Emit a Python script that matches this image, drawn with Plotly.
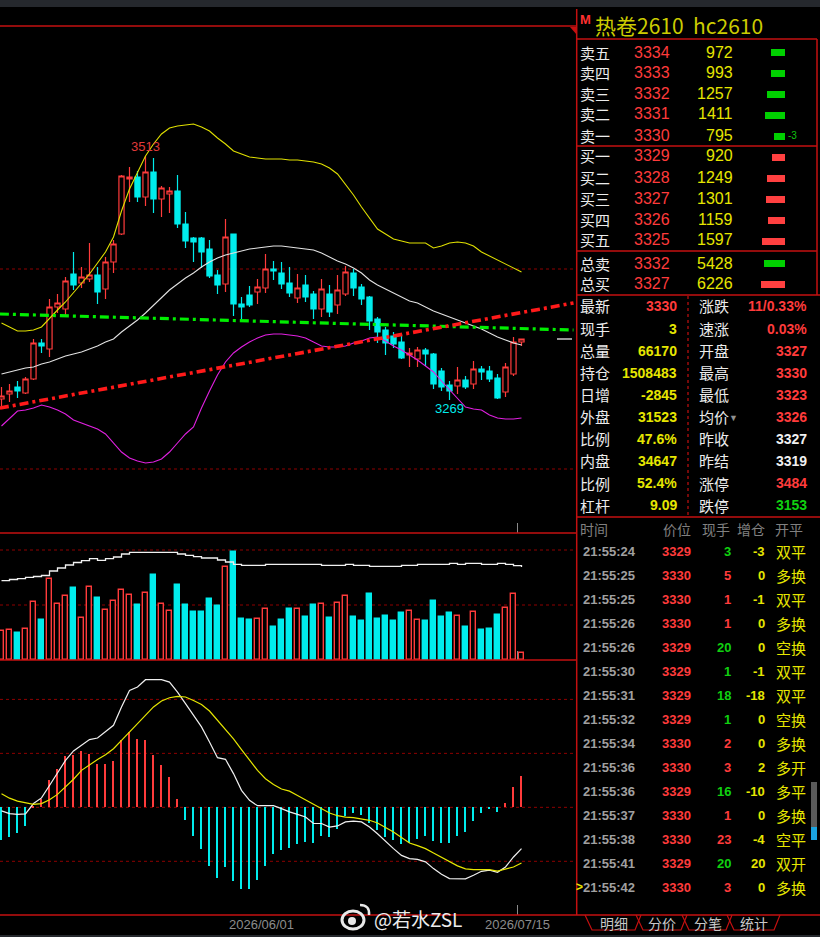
import plotly.graph_objects as go

W, H = 820, 937
CJK = "Noto Sans CJK SC"
NUM = "Liberation Sans"

RED = "#ff3b3b"
CYAN = "#00ecec"
YEL = "#e6e600"
BORDER = "#c41010"
GRID = "#8e0000"

# ---- daily candles hc2610 (index 0..65, last one = 2026/07/15 night session)
opens = [3270, 3275, 3282, 3276, 3290, 3326, 3320, 3362, 3360, 3395,
         3386, 3390, 3394, 3380, 3407, 3435, 3490, 3492, 3472, 3497,
         3470, 3475, 3478, 3445, 3431, 3431, 3420, 3394, 3385, 3435,
         3365, 3374, 3377, 3381, 3400, 3396, 3386, 3371, 3384, 3375,
         3360, 3375, 3364, 3375, 3396, 3382, 3372, 3350, 3339, 3333,
         3327, 3314, 3310, 3319, 3315, 3298, 3284, 3283, 3289, 3285,
         3300, 3298, 3291, 3277, 3295, 3327]
highs = [3282, 3285, 3288, 3292, 3330, 3330, 3370, 3375, 3392, 3417,
         3402, 3426, 3402, 3412, 3429, 3494, 3502, 3498, 3513, 3511,
         3483, 3482, 3494, 3457, 3432, 3432, 3429, 3399, 3450, 3435,
         3372, 3383, 3390, 3415, 3408, 3407, 3402, 3395, 3394, 3378,
         3390, 3384, 3394, 3403, 3400, 3385, 3373, 3352, 3342, 3337,
         3335, 3321, 3322, 3321, 3316, 3301, 3288, 3302, 3293, 3308,
         3303, 3303, 3295, 3306, 3332, 3330]
lows = [3261, 3267, 3271, 3275, 3289, 3316, 3312, 3356, 3354, 3379,
        3381, 3387, 3365, 3370, 3396, 3434, 3467, 3467, 3463, 3456,
        3452, 3456, 3441, 3421, 3407, 3401, 3391, 3375, 3377, 3353,
        3350, 3362, 3365, 3376, 3389, 3380, 3372, 3366, 3367, 3350,
        3352, 3352, 3355, 3373, 3373, 3364, 3339, 3326, 3314, 3321,
        3310, 3302, 3302, 3303, 3280, 3278, 3269, 3275, 3280, 3280,
        3289, 3287, 3270, 3272, 3293, 3323]
closes = [3273, 3278, 3278, 3290, 3326, 3323, 3362, 3366, 3388, 3384,
          3392, 3394, 3377, 3407, 3425, 3493, 3492, 3472, 3497, 3470,
          3481, 3478, 3445, 3428, 3427, 3417, 3393, 3384, 3432, 3365,
          3362, 3364, 3382, 3400, 3398, 3385, 3376, 3381, 3372, 3360,
          3380, 3357, 3379, 3397, 3381, 3370, 3348, 3337, 3326, 3325,
          3311, 3316, 3319, 3315, 3285, 3282, 3278, 3289, 3282, 3300,
          3297, 3290, 3271, 3302, 3327, 3330]

boll_up = [3346, 3342, 3338, 3338, 3339, 3342, 3351, 3359, 3367, 3376,
           3385, 3395, 3406, 3417, 3432, 3458, 3480, 3497, 3513, 3525,
           3535, 3541, 3543, 3544, 3545, 3542, 3538, 3531, 3525, 3518,
           3515, 3512, 3511, 3510, 3510, 3510, 3509, 3509, 3508, 3507,
           3505, 3501, 3495, 3485, 3474, 3462, 3451, 3440, 3435, 3430,
           3428, 3426, 3426, 3426, 3421, 3423, 3426, 3427, 3426, 3423,
           3417, 3413, 3409, 3405, 3401, 3397]
boll_mid = [3295, 3297, 3299, 3301, 3302, 3305, 3307, 3310, 3313, 3315,
            3317, 3320, 3323, 3327, 3330, 3337, 3343, 3349, 3356, 3364,
            3372, 3379, 3385, 3391, 3396, 3402, 3407, 3411, 3414, 3416,
            3418, 3420, 3421, 3422, 3423, 3423, 3422, 3421, 3420, 3419,
            3416, 3412, 3408, 3405, 3401, 3396, 3389, 3384, 3380, 3376,
            3372, 3368, 3366, 3362, 3358, 3355, 3352, 3349, 3346, 3343,
            3340, 3336, 3332, 3329, 3326, 3324]
boll_low = [3243, 3251, 3258, 3259, 3261, 3264, 3262, 3259, 3255, 3249,
            3246, 3243, 3240, 3235, 3226, 3217, 3211, 3208, 3206, 3207,
            3210, 3217, 3226, 3235, 3242, 3261, 3278, 3294, 3307, 3316,
            3322, 3327, 3331, 3334, 3335, 3335, 3334, 3333, 3331, 3327,
            3323, 3322, 3322, 3323, 3326, 3328, 3331, 3332, 3328, 3323,
            3319, 3314, 3309, 3303, 3297, 3288, 3279, 3271, 3262, 3260,
            3259, 3254, 3251, 3250, 3250, 3251]

# hand-drawn trend lines (candle index, price)
green_line_idx = [-0.2, 71.5]
green_line_px = [3355, 3339]
red_line_idx = [-0.2, 71.5]
red_line_px = [3261, 3366]

volume = [263600, 272700, 245500, 281800, 527300, 363600, 736400, 509100, 581800, 654600,
          381800, 663600, 563600, 454600, 536400, 636400, 590900, 500000, 609100, 772700,
          509100, 445500, 681800, 500000, 436400, 436400, 554500, 490900, 845500, 981800,
          372700, 363600, 372700, 463600, 300000, 363600, 463600, 463600, 390900, 500000,
          509100, 381800, 518200, 581800, 390900, 354500, 600000, 372700, 400000, 354500,
          427300, 445500, 363600, 354500, 536400, 390900, 427300, 400000, 300000, 436400,
          272700, 281800, 409100, 472700, 600000, 66170]
open_interest = [1481200, 1483600, 1485200, 1488000, 1489600, 1491600, 1500600, 1506600, 1512600, 1517600,
                 1521200, 1525200, 1522000, 1525200, 1528600, 1534600, 1538000, 1538000, 1538000, 1538000,
                 1538000, 1538000, 1534600, 1532000, 1529200, 1526600, 1526600, 1522600, 1518600, 1514000,
                 1512000, 1512000, 1512000, 1514000, 1514000, 1514000, 1514000, 1514000, 1514000, 1514000,
                 1512000, 1512000, 1512000, 1514000, 1512000, 1512000, 1510000, 1510000, 1510000, 1510000,
                 1512000, 1512000, 1514000, 1514000, 1514000, 1514000, 1516000, 1514000, 1516000, 1516000,
                 1514000, 1514000, 1516000, 1514000, 1511328, 1508483]

dif = [-1.3, -2.3, -2.6, -2.4, 1.4, 3.5, 8.1, 12.5, 17.4, 20.9,
       23.0, 25.1, 25.7, 27.9, 30.4, 37.2, 43.3, 44.6, 47.3, 47.3,
       47.3, 46.4, 42.7, 38.4, 34.1, 29.8, 24.2, 18.4, 17.8, 12.5,
       6.3, 2.6, 0.6, 0.6, 0.6, -0.5, -1.7, -2.6, -3.6, -6.0,
       -6.0, -7.3, -6.9, -5.4, -5.1, -5.4, -7.3, -9.8, -12.6, -15.3,
       -17.8, -19.0, -19.3, -20.2, -22.7, -24.8, -26.4, -26.4, -26.5, -25.2,
       -23.7, -23.3, -24.1, -22.1, -18.4, -15.3]
dea = [5.0, 3.4, 2.3, 1.6, 1.1, 1.4, 2.8, 4.8, 7.5, 10.4,
       13.7, 15.8, 17.7, 19.5, 21.7, 24.8, 27.9, 31.0, 34.3, 37.2,
       39.4, 40.6, 41.1, 40.9, 39.6, 38.1, 35.7, 32.2, 29.1, 25.4,
       21.4, 17.4, 13.7, 10.6, 8.5, 6.8, 6.0, 4.4, 2.8, 1.4,
       -0.5, -2.1, -3.1, -3.6, -3.8, -4.2, -4.8, -5.8, -7.3, -9.1,
       -11.2, -13.2, -14.2, -15.3, -16.9, -18.6, -20.2, -21.7, -22.8, -23.1,
       -23.1, -23.1, -23.6, -22.8, -22.1, -20.6]
macd = [-12.2, -11.0, -9.5, -6.9, 0.6, 3.0, 10.0, 14.1, 18.9, 19.5,
        20.7, 19.9, 15.9, 15.9, 17.0, 25.1, 27.9, 25.4, 25.1, 19.5,
        15.6, 11.1, 3.0, -4.8, -10.6, -15.6, -21.7, -26.2, -22.1, -27.3,
        -30.2, -30.2, -27.0, -21.7, -17.4, -15.9, -15.1, -13.6, -12.8, -13.2,
        -10.6, -11.0, -8.0, -3.3, -2.1, -3.0, -5.7, -8.4, -11.0, -12.2,
        -13.6, -13.2, -11.7, -10.6, -12.5, -13.2, -13.2, -10.6, -9.1, -5.1,
        -2.1, -0.6, -1.7, 1.5, 7.4, 11.5]

date_ticks = [32.5, 64.5]
date_labels = ["2026/06/01", "2026/07/15"]

# ---- quote panel
title_cn = "热卷2610"
title_code = "hc2610"
book_labels = ["卖五", "卖四", "卖三", "卖二", "卖一", "买一", "买二", "买三", "买四", "买五"]
book_prices = [3334, 3333, 3332, 3331, 3330, 3329, 3328, 3327, 3326, 3325]
book_qty = [972, 993, 1257, 1411, 795, 920, 1249, 1301, 1159, 1597]
total_labels = ["总卖", "总买"]
total_prices = [3332, 3327]
total_qty = [5428, 6226]

stat_left = ["最新", "现手", "总量", "持仓", "日增", "外盘", "比例", "内盘", "比例", "杠杆"]
stat_left_val = ["3330", "3", "66170", "1508483", "-2845", "31523", "47.6%", "34647", "52.4%", "9.09"]
stat_left_col = [RED] + [YEL] * 9
stat_right = ["涨跌", "速涨", "开盘", "最高", "最低", "均价", "昨收", "昨结", "涨停", "跌停"]
stat_right_val = ["11/0.33%", "0.03%", "3327", "3330", "3323", "3326", "3327", "3319", "3484", "3153"]
stat_right_col = [RED, RED, RED, RED, RED, RED, "#f0f0f0", "#f0f0f0", RED, "#10d010"]

tick_time = ["21:55:24", "21:55:25", "21:55:25", "21:55:26", "21:55:26", "21:55:30", "21:55:31",
             "21:55:32", "21:55:34", "21:55:36", "21:55:36", "21:55:37", "21:55:38", "21:55:41",
             "21:55:42"]
tick_price = [3329, 3330, 3330, 3330, 3329, 3329, 3329, 3329, 3330, 3330, 3329, 3330, 3330, 3329, 3330]
tick_qty = [3, 5, 1, 1, 20, 1, 18, 1, 2, 3, 16, 1, 23, 20, 3]
tick_oi = [-3, 0, -1, 0, 0, -1, -18, 0, 0, 2, -10, 0, -4, 20, 0]
tick_kind = ["双平", "多换", "双平", "多换", "空换", "双平", "双平", "空换", "多换", "多开",
             "多平", "多换", "空平", "双开", "多换"]


def P(x):
    return x / W


def Q(y):
    return 1 - y / H


idx = list(range(len(closes)))
up = [c >= o for o, c in zip(opens, closes)]

fig = go.Figure()

fig.add_trace(go.Candlestick(
    x=idx, open=opens, high=highs, low=lows, close=closes,
    increasing=dict(line=dict(color=RED, width=1.2), fillcolor="#000000"),
    decreasing=dict(line=dict(color=CYAN, width=1.2), fillcolor=CYAN),
    xaxis="x", yaxis="y", hoverinfo="skip"))
for vals, col in [(boll_up, "#e0e000"), (boll_mid, "#e2e2e2"), (boll_low, "#e020e0")]:
    fig.add_trace(go.Scatter(x=idx, y=vals, mode="lines", line=dict(color=col, width=1.1),
                             xaxis="x", yaxis="y"))
fig.add_trace(go.Scatter(x=green_line_idx, y=green_line_px, mode="lines",
                         line=dict(color="#00ee00", width=3.2, dash="9px,4px,3px,4px"),
                         xaxis="x", yaxis="y"))
fig.add_trace(go.Scatter(x=red_line_idx, y=red_line_px, mode="lines",
                         line=dict(color="#ff1a1a", width=3.6, dash="9px,4px,3px,4px"),
                         xaxis="x", yaxis="y"))

# volume + open interest
fig.add_trace(go.Bar(
    x=idx, y=volume, width=0.72,
    marker=dict(color=["#000000" if u else CYAN for u in up],
                line=dict(color=[RED if u else CYAN for u in up], width=1.4)),
    xaxis="x2", yaxis="y2"))
fig.add_trace(go.Scatter(x=idx, y=open_interest, mode="lines", line=dict(color="#f0f0f0", width=1.3, shape="hv"),
                         xaxis="x2", yaxis="y5"))

# MACD
fig.add_trace(go.Bar(x=idx, y=macd, width=0.16,
                     marker=dict(color=[RED if v > 0 else CYAN for v in macd], line=dict(width=0)),
                     xaxis="x3", yaxis="y3"))
fig.add_trace(go.Scatter(x=idx, y=dif, mode="lines", line=dict(color="#f0f0f0", width=1.2),
                         xaxis="x3", yaxis="y3"))
fig.add_trace(go.Scatter(x=idx, y=dea, mode="lines", line=dict(color="#e6e600", width=1.2),
                         xaxis="x3", yaxis="y3"))

# order book bars
fig.add_trace(go.Bar(x=book_qty, y=list(range(10)), orientation="h", width=0.34,
                     marker=dict(color=["#00d000"] * 5 + ["#ff4040"] * 5, line=dict(width=0)),
                     xaxis="x4", yaxis="y4"))
fig.add_trace(go.Bar(x=total_qty, y=[0, 1], orientation="h", width=0.34,
                     marker=dict(color=["#00d000", "#ff4040"], line=dict(width=0)),
                     xaxis="x6", yaxis="y6"))

xr = [-0.1875, 71.6875]
chart_dom = [0, P(575)]
hidden = dict(showgrid=False, zeroline=False, showticklabels=False, showline=False, ticks="")

layout = dict(
    width=W, height=H, margin=dict(l=0, r=0, t=0, b=0),
    paper_bgcolor="#000000", plot_bgcolor="#000000",
    showlegend=False, hovermode=False, bargap=0, boxgap=0.08,
    xaxis=dict(domain=chart_dom, range=xr, anchor="y", rangeslider=dict(visible=False), **hidden),
    yaxis=dict(domain=[Q(533), Q(26)], range=[3136, 3643], anchor="x", **hidden),
    xaxis2=dict(domain=chart_dom, range=xr, anchor="y2", **hidden),
    yaxis2=dict(domain=[Q(660), Q(533)], range=[0, 1154560], anchor="x2", **hidden),
    yaxis5=dict(domain=[Q(660), Q(533)], range=[1322600, 1576600], anchor="x2", overlaying="y2", **hidden),
    xaxis3=dict(domain=chart_dom, range=xr, anchor="y3", showgrid=False, zeroline=False, showline=False,
                ticks="", tickvals=date_ticks, ticktext=date_labels,
                tickfont=dict(family=NUM, size=13, color="#8c8c8c")),
    yaxis3=dict(domain=[Q(915), Q(660)], range=[-39.9, 54.6], anchor="x3", **hidden),
    xaxis4=dict(domain=[P(750), P(785)], range=[2450, 0], anchor="y4", **hidden),
    yaxis4=dict(domain=[Q(251.5), Q(41.5)], range=[9.5, -0.5], anchor="x4", **hidden),
    xaxis6=dict(domain=[P(750), P(785)], range=[9080, 0], anchor="y6", **hidden),
    yaxis6=dict(domain=[Q(294.5), Q(252.5)], range=[1.5, -0.5], anchor="x6", **hidden),
)
fig.update_layout(**layout)

shapes = []
ann = []


def seg(x0, y0, x1, y1, color=BORDER, width=1.5, dash="solid"):
    shapes.append(dict(type="line", xref="paper", yref="paper", x0=P(x0), y0=Q(y0), x1=P(x1), y1=Q(y1),
                       line=dict(color=color, width=width, dash=dash)))


def note(x, y, s, color, size=14, anchor="left", family=CJK):
    ann.append(dict(x=P(x), y=Q(y), xref="paper", yref="paper", text=s, showarrow=False,
                    xanchor=anchor, yanchor="middle", borderpad=0,
                    font=dict(family=family, size=size, color=color)))


# grid lines
for p in [3400, 3200]:
    shapes.append(dict(type="line", xref="paper", yref="y", x0=0, x1=P(573), y0=p, y1=p, layer="below",
                       line=dict(color=GRID, width=1, dash="3px,3px")))
for v in [500000, 1000000]:
    shapes.append(dict(type="line", xref="paper", yref="y2", x0=0, x1=P(573), y0=v, y1=v, layer="below",
                       line=dict(color=GRID, width=1, dash="3px,3px")))
for v in [-20, 0, 20, 40]:
    shapes.append(dict(type="line", xref="paper", yref="y3", x0=0, x1=P(573), y0=v, y1=v, layer="below",
                       line=dict(color=GRID, width=1, dash="3px,3px")))

# current day tick marks
for y0, y1 in [(523, 533), (651, 660), (905, 915)]:
    shapes.append(dict(type="line", xref="x", yref="paper", x0=64.5, x1=64.5, y0=Q(y0), y1=Q(y1),
                       line=dict(color="#8a8a8a", width=1)))
seg(557, 339, 572, 339, "#e8e8e8", 1.3)

# frame
shapes.append(dict(type="rect", xref="paper", yref="paper", x0=0, x1=1, y0=Q(7), y1=1,
                   fillcolor="#25282d", line=dict(width=0)))
shapes.append(dict(type="rect", xref="paper", yref="paper", x0=0, x1=1, y0=0, y1=Q(935),
                   fillcolor="#25282d", line=dict(width=0)))
seg(0, 26, 577, 26)
seg(0, 533, 576, 533)
seg(0, 660, 576, 660)
seg(0, 915, 820, 915)
seg(576.7, 9, 576.7, 915)
seg(577, 39, 817, 39)
seg(817, 39, 817, 295)
seg(577, 146, 817, 146)
seg(577, 251, 817, 251)
seg(577, 295, 820, 295)
seg(577, 517, 820, 517)
seg(688, 296, 688, 515, "#c41010", 1.2, "3px,3px")
shapes.append(dict(type="path", xref="paper", yref="paper",
                   path=f"M {P(570)} {Q(27)} L {P(577)} {Q(27)} L {P(577)} {Q(35)} Z",
                   fillcolor=BORDER, line=dict(width=0)))

# bottom tabs
tab_edges = [585, 636, 682, 727, 775]
tab_names = ["明细", "分价", "分笔", "统计"]
for i, name in enumerate(tab_names):
    a, b = tab_edges[i], tab_edges[i + 1]
    shapes.append(dict(type="path", xref="paper", yref="paper",
                       path=f"M {P(a)} {Q(915)} L {P(a + 7)} {Q(930)} L {P(b - 1)} {Q(930)} L {P(b + 5)} {Q(915)}",
                       line=dict(color=BORDER, width=1.2)))
    note((a + b + 6) / 2, 922.5, name, "#c8c8c8", 14, "center")

# scrollbar
shapes.append(dict(type="rect", xref="paper", yref="paper", x0=P(811), x1=P(817), y0=Q(840), y1=Q(782),
                   fillcolor="#5a5a5a", line=dict(width=0)))
shapes.append(dict(type="rect", xref="paper", yref="paper", x0=P(811), x1=P(817), y0=Q(840), y1=Q(827),
                   fillcolor="#1aa3e0", line=dict(width=0)))

# watermark
shapes.append(dict(type="circle", xref="paper", yref="paper", x0=P(342), x1=P(364), y0=Q(929), y1=Q(911),
                   line=dict(color="#e8e8e8", width=3)))
shapes.append(dict(type="circle", xref="paper", yref="paper", x0=P(348), x1=P(356), y0=Q(925), y1=Q(917),
                   fillcolor="#e8e8e8", line=dict(width=0)))
shapes.append(dict(type="path", xref="paper", yref="paper",
                   path=f"M {P(360)} {Q(905)} Q {P(370)} {Q(905)} {P(369)} {Q(915)}",
                   line=dict(color="#e8e8e8", width=2.5)))
note(373, 918, "@若水ZSL", "#ececec", 19)

# chart labels
ann.append(dict(x=18, y=3513, xref="x", yref="y", text="3513", showarrow=False, yshift=9,
                font=dict(family=NUM, size=13, color="#e03a3a")))
ann.append(dict(x=56, y=3269, xref="x", yref="y", text="3269", showarrow=False, yshift=-9,
                font=dict(family=NUM, size=13, color=CYAN)))

# quote header
note(579, 19, "<b>M</b>", "#ff3030", 13, family=NUM)
note(594, 25, f"{title_cn}&nbsp;&nbsp;{title_code}", "#cccc00", 21)

rows = [52, 72, 93, 114, 135, 156, 177, 198, 219, 240]
for y, lab, pr, q in zip(rows, book_labels, book_prices, book_qty):
    note(579, y, lab, "#ececec", 15)
    note(671, y, str(pr), RED, 16, "right", NUM)
    note(734, y, str(q), YEL, 16, "right", NUM)
note(787, 135, "-3", "#10c010", 10, family=NUM)
for y, lab, pr, q in zip([263, 284], total_labels, total_prices, total_qty):
    note(579, y, lab, "#ececec", 15)
    note(671, y, str(pr), RED, 16, "right", NUM)
    note(734, y, str(q), YEL, 16, "right", NUM)

srows = [306, 329, 351, 373, 395, 417, 439, 461, 483, 505]
for i, y in enumerate(srows):
    note(579, y, stat_left[i], "#ececec", 15)
    note(678, y, f"<b>{stat_left_val[i]}</b>", stat_left_col[i], 14, "right", NUM)
    note(698, y, stat_right[i], "#ececec", 15)
    note(808, y, f"<b>{stat_right_val[i]}</b>", stat_right_col[i], 14, "right", NUM)
note(733, 418, "▼", "#909090", 9, "center", NUM)

# tick list
note(579, 529, "时间", "#808080", 14)
for x, s in [(677, "价位"), (716, "现手"), (751, "增仓"), (789, "开平")]:
    note(x, 529, s, "#808080", 14, "center")
for i in range(len(tick_time)):
    y = 551.7 + 24 * i
    note(582, y, f"<b>{tick_time[i]}</b>", "#a0a0a0", 13, family=NUM)
    note(692, y, f"<b>{tick_price[i]}</b>", RED, 13, "right", NUM)
    qcol = "#10d010" if tick_price[i] == 3329 else RED
    note(732, y, f"<b>{tick_qty[i]}</b>", qcol, 13, "right", NUM)
    note(766, y, f"<b>{tick_oi[i]}</b>", YEL, 13, "right", NUM)
    note(775, y, tick_kind[i], YEL, 15)
note(575, 887, "<b>&gt;</b>", YEL, 12, family=NUM)

fig.update_layout(shapes=shapes, annotations=ann)
fig.write_html("out.html", config={"displayModeBar": False},
               post_script="document.body.style.margin='0';document.body.style.overflow='hidden';")
